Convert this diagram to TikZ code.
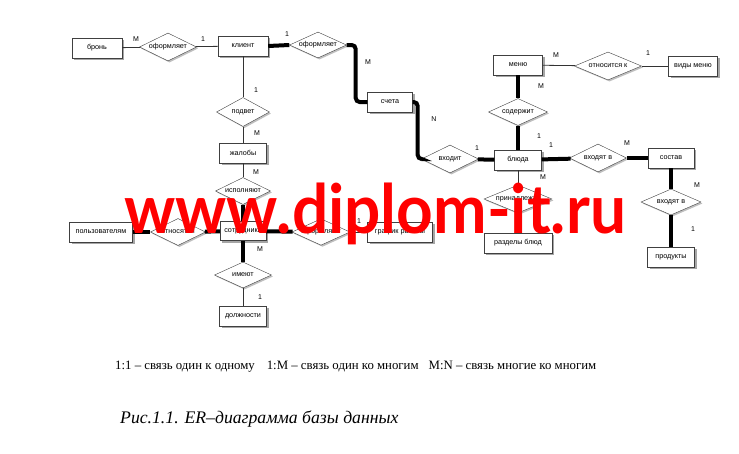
\documentclass[tikz,border=0pt]{standalone}
\usepackage{fontspec}
\setmainfont{Liberation Serif}
\newfontfamily\arialf{Liberation Sans}
\newfontfamily\wmfont{Lato}
\usetikzlibrary{shapes.geometric,shadows}
\begin{document}
\begin{tikzpicture}[x=1pt,y=-1pt,
  ent/.style={draw=black!75, fill=white, minimum height=20pt, inner sep=1pt,
    font=\arialf\fontsize{7.2}{8}\selectfont,
    drop shadow={shadow xshift=2pt, shadow yshift=-2pt, fill=black!35, opacity=1}},
  rel/.style={shape=diamond, aspect=2, draw=black!75, fill=white, inner sep=0pt,
    minimum width=57pt, minimum height=28pt, font=\arialf\fontsize{7.2}{8}\selectfont,
    drop shadow={shadow xshift=1.5pt, shadow yshift=-1.5pt, fill=black!25, opacity=1}},
  thin/.style={draw=black!80, line width=0.8pt},
  thickline/.style={draw=black, line width=4pt, rounded corners=4pt},
  lab/.style={font=\arialf\fontsize{7}{8}\selectfont, inner sep=0pt}]
\useasboundingbox[fill=white] (0,0) rectangle (739,453);

% entities
\node[ent, minimum width=50pt] (bron) at (97,48) {бронь};
\node[ent, minimum width=50pt] (klient) at (243,46) {клиент};
\node[ent, minimum width=45pt] (scheta) at (390,102) {счета};
\node[ent, minimum width=49pt] (menu) at (518,65) {меню};
\node[ent, minimum width=49pt] (vidy) at (693,66) {виды меню};
\node[ent, minimum width=47pt] (bluda) at (518,160) {блюда};
\node[ent, minimum width=46pt] (sostav) at (671,158) {состав};
\node[ent, minimum width=47pt] (produkty) at (671,257) {продукты};
\node[ent, minimum width=68pt] (razdely) at (518,243) {разделы блюд};
\node[ent, minimum width=47pt] (zhaloby) at (243,153) {жалобы};
\node[ent, minimum width=46pt, minimum height=19pt] (sotr) at (243,231) {сотрудники};
\node[ent, minimum width=63pt] (polz) at (101,232) {пользователям};
\node[ent, minimum width=65pt] (grafik) at (400,232) {график работы};
\node[ent, minimum width=47pt] (dolzh) at (243,316) {должности};

% relationships
\node[rel] (of1) at (168,47) {оформляет};
\node[rel, minimum height=26pt] (of2) at (318,45) {оформляет};
\node[rel] (vhodit) at (450,159) {входит};
\node[rel, minimum width=67pt] (otn) at (608,66) {относится к};
\node[rel, minimum width=59pt, minimum height=27pt] (soderzh) at (518,112) {содержит};
\node[rel] (vh1) at (598,158) {входят в};
\node[rel, minimum width=60pt, minimum height=26pt] (vh2) at (671,202) {входят в};
\node[rel, minimum width=68pt] (prin) at (518,199) {принадлежат};
\node[rel, minimum width=53pt, minimum height=29pt] (podvet) at (243,112) {подвет};
\node[rel, minimum width=55pt, minimum height=27pt] (ispoln) at (243,191) {исполняют};
\node[rel, minimum width=55pt, minimum height=27pt] (otnos) at (178,232) {относятся};
\node[rel, minimum width=58pt, minimum height=25pt] (ofrm) at (321,232) {оформляют};
\node[rel, minimum width=57pt, minimum height=26pt] (imeut) at (243,275) {имеют};

% thin connectors
\draw[thin] (bron) -- (of1);
\draw[thin] (of1) -- (klient);
\draw[thin] (klient) -- (podvet);
\draw[thin] (podvet) -- (zhaloby);
\draw[thin] (zhaloby) -- (ispoln);
\draw[thin] (menu) -- (otn);
\draw[thin] (otn) -- (vidy);
\draw[thin] (bluda) -- (prin);
\draw[thin] (prin) -- (razdely);
\draw[thin] (imeut) -- (dolzh);
\draw[thin] (ofrm) -- (grafik);

% thick connectors
\draw[thickline] (klient.east) -- (of2.west);
\draw[thickline] (of2.east) -- ++(9,0) |- (scheta.west);
\draw[thickline] (scheta.east) -- ++(5,0) |- (vhodit.west);
\draw[thickline] (vhodit) -- (bluda);
\draw[thickline] (menu) -- (soderzh);
\draw[thickline] (soderzh) -- (bluda);
\draw[thickline] (bluda) -- (vh1);
\draw[thickline] (vh1) -- (sostav);
\draw[thickline] (sostav) -- (vh2);
\draw[thickline] (vh2) -- (produkty);
\draw[thickline] (polz) -- (otnos);
\draw[thickline] (otnos) -- (sotr);
\draw[thickline] (sotr) -- (ofrm);
\draw[thickline] (ispoln) -- (sotr);
\draw[thickline] (sotr) -- (imeut);

% cardinality labels
\node[lab] (l1) at (136,39) {M};
\node[lab] (l2) at (203,39) {1};
\node[lab] (l3) at (287,34) {1};
\node[lab] (l4) at (368,62) {M};
\node[lab] (l5) at (256,90) {1};
\node[lab] (l6) at (257,133) {M};
\node[lab] (l7) at (256,172) {M};
\node[lab] (l8) at (260,249) {M};
\node[lab] (l9) at (260,297) {1};
\node[lab] (l10) at (556,55) {M};
\node[lab] (l11) at (648,53) {1};
\node[lab] (l12) at (541,86) {M};
\node[lab] (l13) at (434,119) {N};
\node[lab] (l14) at (539,136) {1};
\node[lab] (l15) at (551,145) {1};
\node[lab] (l16) at (477,148) {1};
\node[lab] (l17) at (627,143) {M};
\node[lab] (l18) at (543,177) {M};
\node[lab] (l19) at (697,185) {M};
\node[lab] (l20) at (693,229) {1};
\node[lab] (l21) at (359,221) {1};

% watermark
\node[anchor=base west, inner sep=0pt, text=red, xscale=0.94] (wm) at (124,233)
  {\wmfont\bfseries\fontsize{68}{70}\selectfont www.diplom-it.ru};

% legend and caption
\node[anchor=west, inner sep=0pt, font=\fontsize{12.8}{14}\selectfont] (legend) at (115,367)
  {1:1 – связь один к одному\hspace{12pt}1:M – связь один ко многим\hspace{10pt}M:N – связь многие ко многим};
\node[anchor=west, inner sep=0pt, font=\itshape\fontsize{17.7}{20}\selectfont] (caption) at (120,419)
  {Рис.1.1. ER–диаграмма базы данных};
\end{tikzpicture}
\end{document}
